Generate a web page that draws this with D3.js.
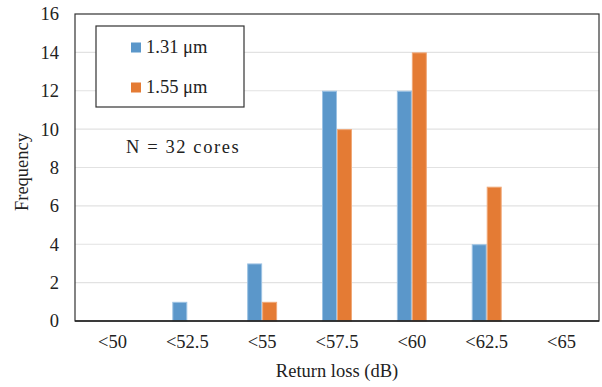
<!DOCTYPE html>
<html>
<head>
<meta charset="utf-8">
<script src="https://cdn.jsdelivr.net/npm/d3@7"></script>
<style>
  html, body { margin: 0; padding: 0; background: #fff; }
</style>
</head>
<body>
<svg id="chart" width="602" height="387"></svg>
<script>
// Return-loss histogram for 32 fibre cores at two wavelengths
const categories = ["<50", "<52.5", "<55", "<57.5", "<60", "<62.5", "<65"];
const seriesNames = ["1.31 \u03bcm", "1.55 \u03bcm"];
const values1310 = [0, 1, 3, 12, 12, 4, 0];
const values1550 = [0, 0, 1, 10, 14, 7, 0];
const yTicks = [0, 2, 4, 6, 8, 10, 12, 14, 16];
const colors = ["#5b97ca", "#e47b34"];
const edgeColors = ["#9cc2e3", "#f0a878"];

const FONT = '"Liberation Serif", "Tinos", "Times New Roman"';
const fontSize = "18.5px";
const textColor = "#222";

const svg = d3.select("#chart");
const plotLeft = 75, plotRight = 599, plotTop = 14, plotBottom = 321;

const x = d3.scaleBand().domain(categories).range([plotLeft, plotRight]).paddingInner(0).paddingOuter(0);
const xs = d3.scaleBand().domain([0, 1])
  .range([x.bandwidth() * 0.3, x.bandwidth() * 0.7]).padding(0);
const y = d3.scaleLinear().domain([0, 16]).range([plotBottom, plotTop]);

function styleText(sel) {
  return sel.style("font-family", FONT).style("font-size", fontSize).attr("fill", textColor);
}

// gridlines
svg.append("g").selectAll("line").data(yTicks.filter(d => d > 0 && d < 16)).join("line")
  .attr("x1", plotLeft).attr("x2", plotRight)
  .attr("y1", d => y(d)).attr("y2", d => y(d))
  .attr("stroke", "#e2e2e2").attr("stroke-width", 1.2);

// bars
const series = [values1310, values1550];
series.forEach((vals, si) => {
  svg.append("g").selectAll("rect")
    .data(vals.map((v, i) => ({ v, c: categories[i] })).filter(d => d.v > 0))
    .join("rect")
    .attr("x", d => x(d.c) + xs(si) + 0.5)
    .attr("y", d => y(d.v) + 0.5)
    .attr("width", xs.bandwidth() - 1)
    .attr("height", d => y(0) - y(d.v) - 0.5)
    .attr("fill", colors[si])
    .attr("stroke", edgeColors[si])
    .attr("stroke-width", 1);
});

// frame
svg.append("rect")
  .attr("x", plotLeft).attr("y", plotTop)
  .attr("width", plotRight - plotLeft).attr("height", plotBottom - plotTop)
  .attr("fill", "none").attr("stroke", "#333").attr("stroke-width", 1.2);
svg.append("line")
  .attr("x1", plotLeft).attr("x2", plotRight).attr("y1", plotBottom).attr("y2", plotBottom)
  .attr("stroke", "#222").attr("stroke-width", 1.6);

// y axis labels
const yAxis = d3.axisLeft(y).tickValues(yTicks).tickSize(0).tickPadding(16);
const yg = svg.append("g").attr("transform", `translate(${plotLeft},0)`).call(yAxis);
yg.select(".domain").remove();
yg.attr("font-family", null).attr("font-size", null);
styleText(yg.selectAll("text"));

// x axis labels
const xAxis = d3.axisBottom(x).tickSize(0).tickPadding(14);
const xg = svg.append("g").attr("transform", `translate(0,${plotBottom})`).call(xAxis);
xg.select(".domain").remove();
xg.attr("font-family", null).attr("font-size", null);
styleText(xg.selectAll("text"));

// axis titles
styleText(svg.append("text")
  .attr("x", (plotLeft + plotRight) / 2).attr("y", 377)
  .attr("text-anchor", "middle"))
  .text("Return loss (dB)");
styleText(svg.append("text")
  .attr("transform", `translate(28,172) rotate(-90)`)
  .attr("text-anchor", "middle"))
  .text("Frequency");

// legend
const lg = svg.append("g");
lg.append("rect").attr("x", 96).attr("y", 26).attr("width", 148).attr("height", 81)
  .attr("fill", "#fff").attr("stroke", "#333").attr("stroke-width", 1.2);
seriesNames.forEach((name, i) => {
  const by = 53 + i * 40;
  lg.append("rect").attr("x", 131).attr("y", by - 10.5).attr("width", 10).attr("height", 10)
    .attr("fill", colors[i]);
  styleText(lg.append("text").attr("x", 146).attr("y", by)).text(name);
});

// sample size note
styleText(svg.append("text").attr("x", 126).attr("y", 153))
  .style("letter-spacing", "1.6px")
  .text("N = 32 cores");
</script>
</body>
</html>
